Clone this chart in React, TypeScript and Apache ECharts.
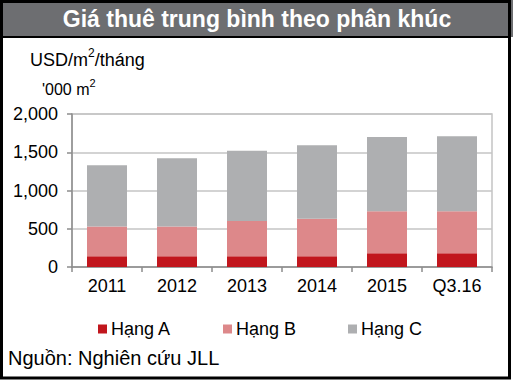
import React, { useEffect, useRef } from "react";
import * as echarts from "echarts";

const categories = ["2011", "2012", "2013", "2014", "2015", "Q3.16"];
const hangA = [140, 140, 140, 140, 180, 180];
const hangB = [390, 390, 460, 490, 550, 550];
const hangC = [800, 890, 920, 960, 970, 980];
const seriesNames = ["Hạng A", "Hạng B", "Hạng C"];
const colors = ["#C1161D", "#DD888A", "#AEAFB1"];
const yTicks = [0, 500, 1000, 1500, 2000];

const FONT = "'Liberation Sans', Arial, sans-serif";

export default function App() {
  const ref = useRef<HTMLDivElement>(null);
  useEffect(() => {
    if (!ref.current) return;
    const chart = echarts.init(ref.current, null, { renderer: "svg" });
    const data = [hangA, hangB, hangC];
    chart.setOption({
      animation: false,
      backgroundColor: "#fff",
      textStyle: { fontFamily: FONT },
      grid: {
        left: 72,
        right: 21,
        top: 114,
        bottom: 115,
        show: true,
        borderColor: "#C4C4C4",
        borderWidth: 1.5,
      },
      xAxis: {
        type: "category",
        data: categories,
        axisLine: { lineStyle: { color: "#8C8C8C", width: 1.5 } },
        axisTick: { show: true, length: 5, lineStyle: { color: "#8C8C8C", width: 1.5 } },
        axisLabel: { color: "#000", fontSize: 18, margin: 10, fontFamily: FONT },
      },
      yAxis: {
        type: "value",
        min: yTicks[0],
        max: yTicks[yTicks.length - 1],
        interval: 500,
        axisLine: { show: true, lineStyle: { color: "#8C8C8C", width: 1.5 } },
        axisTick: { show: true, length: 5, lineStyle: { color: "#8C8C8C", width: 1.5 } },
        splitLine: { lineStyle: { color: "#C4C4C4", width: 1.5 } },
        axisLabel: {
          color: "#000",
          fontSize: 18,
          margin: 14,
          fontFamily: FONT,
          formatter: (v: number) => v.toLocaleString("en-US"),
        },
      },
      legend: seriesNames.map((n, i) => ({
        data: [n],
        left: 98 + i * 125,
        top: 320,
        icon: "rect",
        itemWidth: 9,
        itemHeight: 9,
        itemGap: 0,
        padding: 0,
        textStyle: { color: "#000", fontSize: 18, fontFamily: FONT, padding: [0, 0, 0, -1] },
      })),
      series: seriesNames.map((n, i) => ({
        name: n,
        type: "bar",
        stack: "total",
        barWidth: 40,
        data: data[i],
        itemStyle: { color: colors[i] },
      })),
      graphic: [
        {
          type: "rect",
          shape: { x: 0, y: 0, width: 513, height: 37 },
          style: { fill: "#6D6E71" },
          z: 0,
        },
        {
          type: "text",
          x: 257,
          y: 19,
          style: {
            text: "Giá thuê trung bình theo phân khúc",
            fill: "#fff",
            font: `bold 23px ${FONT}`,
            align: "center",
            verticalAlign: "middle",
          },
        },
        {
          type: "line",
          shape: { x1: 0, y1: 37, x2: 511, y2: 37 },
          style: { stroke: "#000", lineWidth: 2 },
        },
        {
          type: "rect",
          shape: { x: 1.5, y: 1.5, width: 508, height: 376.5 },
          style: { fill: "none", stroke: "#000", lineWidth: 3 },
          z: 10,
        },
        {
          type: "text",
          x: 30,
          y: 58,
          style: {
            text: "{n|USD/m}{s|2}{n|/tháng}",
            fill: "#000",
            verticalAlign: "middle",
            rich: {
              n: { fontSize: 18, fontFamily: FONT, lineHeight: 22, verticalAlign: "bottom", fill: "#000" },
              s: { fontSize: 12, fontFamily: FONT, lineHeight: 22, verticalAlign: "top", fill: "#000" },
            },
          },
        },
        {
          type: "text",
          x: 42,
          y: 87,
          style: {
            text: "{n|'000 m}{s|2}",
            fill: "#000",
            verticalAlign: "middle",
            rich: {
              n: { fontSize: 16, fontFamily: FONT, lineHeight: 20, verticalAlign: "bottom", fill: "#000" },
              s: { fontSize: 11, fontFamily: FONT, lineHeight: 20, verticalAlign: "top", fill: "#000" },
            },
          },
        },
        {
          type: "text",
          x: 8,
          y: 358,
          style: { text: "Nguồn: Nghiên cứu JLL", fill: "#000", font: `20px ${FONT}`, verticalAlign: "middle" },
        },
      ],
    });
    return () => chart.dispose();
  }, []);
  return (
    <div
      ref={ref}
      style={{ position: "fixed", left: 0, top: 0, width: 513, height: 382 }}
    />
  );
}
